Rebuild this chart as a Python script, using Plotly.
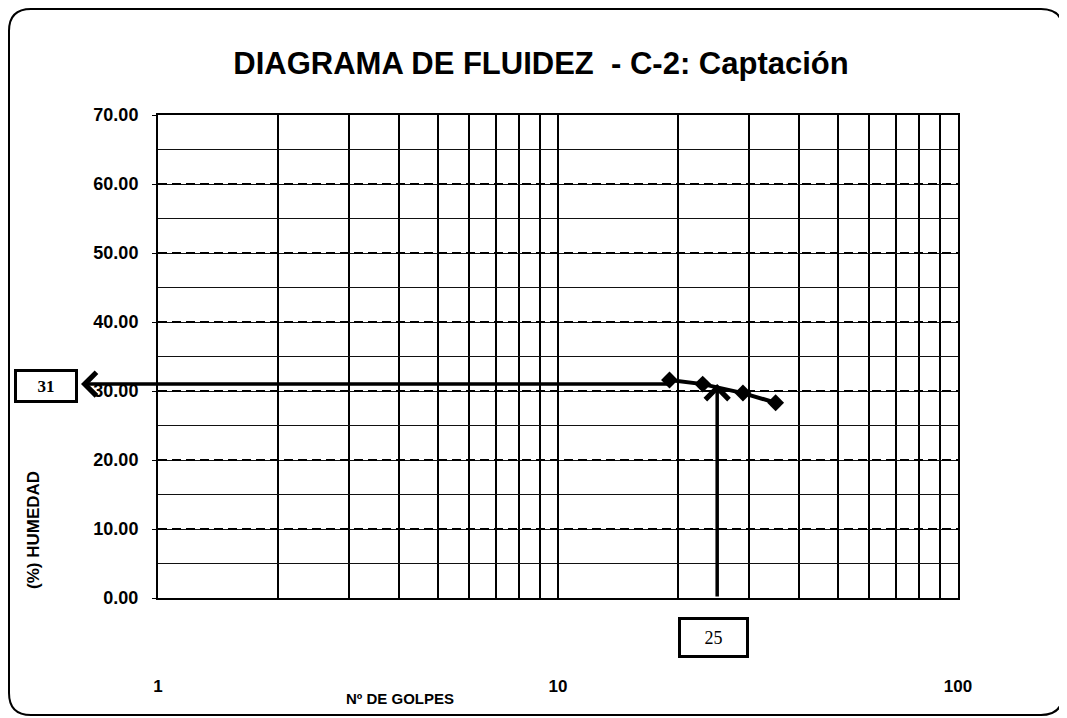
import math

import plotly.graph_objects as go

# Ensayo de límite líquido
golpes = [19, 23, 29, 35]
humedad = [31.6, 31.0, 29.7, 28.3]

golpes_ll = 25
limite_liquido = 31

y_ticks = [0, 10, 20, 30, 40, 50, 60, 70]
x_ticks = [1, 10, 100]
x_minor = [2, 3, 4, 5, 6, 7, 8, 9, 20, 30, 40, 50, 60, 70, 80, 90]

# the page puts the figure 8px in from the top-left corner
OFF = 8
W, H = 1067 - OFF, 718 - OFF
L, T = 158 - OFF, 115 - OFF
R, B = W - (958 - OFF), H - (598 - OFF)
PW, PH = W - L - R, H - T - B

FONT = "Arial, Liberation Sans, sans-serif"


def px_to_paper(px, py):
    """window pixel -> paper coords"""
    return (px - OFF - L) / PW, (H - B - (py - OFF)) / PH


def rounded_rect(x0, y0, x1, y1, r):
    """path of a rounded rectangle, in paper coords"""
    rx, ry = r / PW, r / PH
    a, b = px_to_paper(x0, y1)
    c, d = px_to_paper(x1, y0)
    return (f"M{a + rx},{b} L{c - rx},{b} Q{c},{b} {c},{b + ry} "
            f"L{c},{d - ry} Q{c},{d} {c - rx},{d} "
            f"L{a + rx},{d} Q{a},{d} {a},{d - ry} "
            f"L{a},{b + ry} Q{a},{b} {a + rx},{b} Z")


fig = go.Figure()

fig.add_trace(go.Scatter(
    x=golpes, y=humedad,
    mode="lines+markers",
    line=dict(color="black", width=4),
    marker=dict(symbol="diamond", size=13, color="black"),
    showlegend=False,
))

# flecha vertical: 25 golpes -> curva
fig.add_annotation(
    xref="x", yref="y", axref="x", ayref="y",
    x=math.log10(golpes_ll), y=limite_liquido,
    ax=math.log10(golpes_ll), ay=0,
    showarrow=True, arrowhead=4, arrowsize=1.3, arrowwidth=3.5, arrowcolor="black",
    text="",
)
# flecha horizontal: curva -> caja "31"
head_x = px_to_paper(81, 0)[0]
tail_px = PW * math.log10(golpes[0]) / 2 - head_x * PW
fig.add_annotation(
    xref="paper", yref="y", axref="pixel", ayref="pixel",
    x=head_x, y=limite_liquido, ax=tail_px, ay=0,
    showarrow=True, arrowhead=4, arrowsize=1.3, arrowwidth=3.5, arrowcolor="black",
    text="",
)

# cajas con los valores
bx, by = px_to_paper(46, 386)
fig.add_annotation(
    xref="paper", yref="paper", x=bx, y=by, xanchor="center", yanchor="middle",
    showarrow=False,
    text="<b>%d</b>" % limite_liquido,
    font=dict(family="Liberation Serif, serif", size=17, color="black"),
    bordercolor="black", borderwidth=3, width=56, height=26, bgcolor="white",
)
bx, by = px_to_paper(713, 637)
fig.add_annotation(
    xref="paper", yref="paper", x=bx, y=by, xanchor="center", yanchor="middle",
    showarrow=False,
    text=str(golpes_ll), font=dict(family="Liberation Serif, serif", size=18, color="black"),
    bordercolor="black", borderwidth=3, width=63, height=33, bgcolor="white",
)

# títulos de ejes
tx, ty = px_to_paper(400, 698)
fig.add_annotation(
    xref="paper", yref="paper", x=tx, y=ty, xanchor="center", yanchor="middle",
    showarrow=False,
    text="Nº DE GOLPES", font=dict(family=FONT, size=15, color="black", weight="bold"),
)
tx, ty = px_to_paper(33, 530)
fig.add_annotation(
    xref="paper", yref="paper", x=tx, y=ty, xanchor="center", yanchor="middle",
    showarrow=False, textangle=-90,
    text="(%) HUMEDAD", font=dict(family=FONT, size=17, color="black", weight="bold"),
)

fig.add_shape(
    type="path", xref="paper", yref="paper",
    path=rounded_rect(9, 9, 1063, 715, 22),
    line=dict(color="black", width=2),
)

fig.update_xaxes(
    type="log", range=[0, 2],
    tickvals=x_ticks, ticktext=[str(v) for v in x_ticks],
    tickfont=dict(family=FONT, size=17, color="black", weight="bold"),
    ticklabelstandoff=72,
    showgrid=True, gridcolor="black", gridwidth=2,
    minor=dict(tickvals=x_minor, showgrid=True, gridcolor="black", gridwidth=2),
    showline=True, linecolor="black", linewidth=2, mirror=True,
    zeroline=False,
)
fig.update_yaxes(
    range=[0, 70], tickvals=y_ticks,
    ticktext=[f"{v:.2f}" for v in y_ticks],
    tickfont=dict(family=FONT, size=18, color="black", weight="bold"),
    ticks="outside", ticklen=4, tickcolor="black",
    ticklabelstandoff=10,
    showgrid=True, gridcolor="black", gridwidth=2, griddash="9px,5px",
    minor=dict(dtick=5, showgrid=True, gridcolor="#111", gridwidth=1, griddash="solid"),
    showline=True, linecolor="black", linewidth=2, mirror=True,
    zeroline=False,
)

fig.update_layout(
    width=W, height=H,
    margin=dict(l=L, r=R, t=T, b=B),
    paper_bgcolor="white", plot_bgcolor="white",
    title=dict(
        text="DIAGRAMA DE FLUIDEZ  - C-2: Captación",
        x=(541 - OFF) / W, xanchor="center", y=1 - (63 - OFF) / H, yanchor="middle",
        font=dict(family=FONT, size=31, color="black", weight="bold"),
    ),
)

fig.write_html("out.html")
